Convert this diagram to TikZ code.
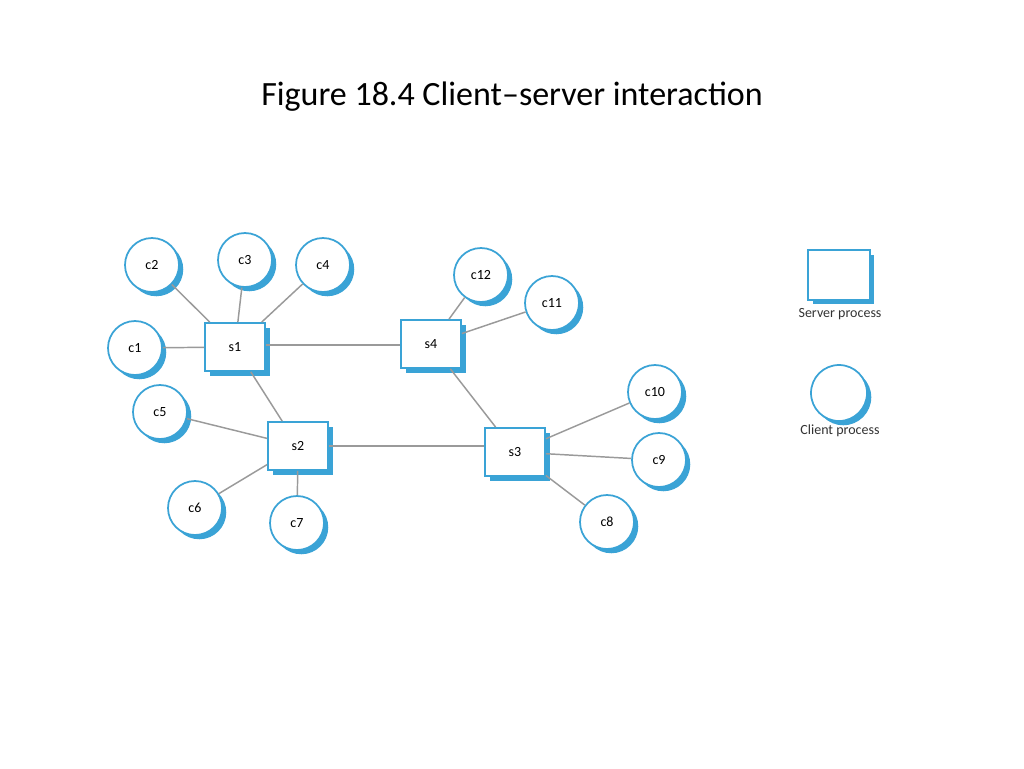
\documentclass[tikz,border=0pt]{standalone}
\usepackage{fontspec}
\setmainfont{Carlito}
\usetikzlibrary{shadows}
\definecolor{procblue}{HTML}{3AA3D6}
\definecolor{linegray}{HTML}{9A9A9A}
\tikzset{
  client/.style={circle, draw=procblue, line width=1.3pt, fill=white, minimum size=40.5pt, inner sep=0pt, font=\fontsize{10.5}{12}\selectfont,
    drop shadow={shadow xshift=3.2pt, shadow yshift=-3.2pt, fill=procblue, opacity=1}},
  server/.style={rectangle, draw=procblue, line width=1.3pt, fill=white, minimum width=45pt, minimum height=36pt, inner sep=0pt, font=\fontsize{10.5}{12}\selectfont,
    drop shadow={shadow xshift=3.5pt, shadow yshift=-3.5pt, fill=procblue, opacity=1}},
  link/.style={draw=linegray, line width=1.1pt},
  legendtxt/.style={font=\fontsize{10.5}{12}\selectfont, text=black!80}
}
\begin{document}
\begin{tikzpicture}[x=0.75pt,y=-0.75pt]
\useasboundingbox[fill=white] (0,0) rectangle (1024,768);
\node (title) at (512,97) {\fontsize{25.5}{30}\selectfont Figure 18.4 Client–server interaction};
% servers
\node[server] (s1) at (235,347) {s1};
\node[server] (s4) at (431,344) {s4};
\node[server] (s2) at (298,446) {s2};
\node[server] (s3) at (515,452) {s3};
% clients
\node[client] (c1) at (135,348) {c1};
\node[client] (c2) at (152,265) {c2};
\node[client] (c3) at (245,260) {c3};
\node[client] (c4) at (323,265) {c4};
\node[client] (c5) at (160,412) {c5};
\node[client] (c6) at (195,508) {c6};
\node[client] (c7) at (297,523) {c7};
\node[client] (c12) at (481,275) {c12};
\node[client] (c11) at (552,303) {c11};
\node[client] (c10) at (655,392) {c10};
\node[client] (c9) at (659,460) {c9};
\node[client] (c8) at (607,522) {c8};
% links
\draw[link] (c1) -- (s1);
\draw[link] (c2) -- (s1);
\draw[link] (c3) -- (s1);
\draw[link] (c4) -- (s1);
\draw[link] ([yshift=1.5pt]s1.east) -- ([yshift=1.5pt]s4.west |- s1.east);
\draw[link] (s1) -- (s2);
\draw[link] (c5) -- (s2);
\draw[link] (c6) -- (s2);
\draw[link] (c7) -- (s2);
\draw[link] (s2.east) -- (s3.west |- s2.east);
\draw[link] (s4) -- (s3);
\draw[link] (c12) -- (s4);
\draw[link] (c11) -- (s4);
\draw[link] (c10) -- (s3);
\draw[link] (c9) -- (s3);
\draw[link] (c8) -- (s3);
% legend
\node[server, minimum width=46pt, minimum height=37pt] (ls) at (839,275) {};
\node[legendtxt] (lst) at (840,314) {Server process};
\node[client, minimum size=42pt] (lc) at (839,393) {};
\node[legendtxt] (lct) at (840,431) {Client process};
\end{tikzpicture}
\end{document}
